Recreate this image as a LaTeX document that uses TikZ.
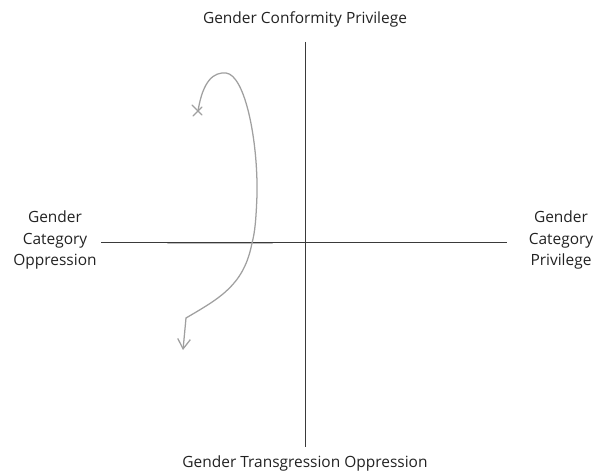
\documentclass[tikz,border=0pt]{standalone}
\usepackage{fontspec}
\setmainfont{Open Sans}
\usetikzlibrary{positioning,arrows.meta}
\definecolor{axisgray}{HTML}{3A3A3A}
\definecolor{pencil}{HTML}{A0A0A0}
\definecolor{ink}{HTML}{222222}
\tikzset{
  axisline/.style={draw=axisgray, line width=0.7pt},
  sketch/.style={draw=pencil, line width=0.9pt, line cap=round, line join=round},
  lab/.style={font=\fontsize{11pt}{15.6pt}\selectfont, text=ink, align=center, inner sep=0pt},
}
\begin{document}
\begin{tikzpicture}[x=0.025cm, y=-0.025cm]
    \useasboundingbox (0,0) rectangle (596,473);
    % quadrant axes
    \coordinate (top) at (305,42);
    \coordinate (bot) at (305,447);
    \coordinate (lft) at (101,242);
    \coordinate (rgt) at (507,242);
    \draw[axisline] (top) -- (bot);
    \draw[axisline] (lft) -- (rgt);
    \node[lab] (tlab) at (305,19) {Gender Conformity Privilege};
    \node[lab] (blab) at (305,463) {Gender Transgression Oppression};
    \node[lab] (llab) at (55,240) {Gender\\Category\\Oppression};
    \node[lab] (rlab) at (561,240) {Gender\\Category\\Privilege};
    % pencil trace
    \coordinate (seg1) at (168,243.5);
    \coordinate (seg2) at (272,243.5);
    \draw[sketch, line width=1.4pt, draw=pencil!70] (seg1) -- (seg2);
    \coordinate (start) at (198,111);
    \coordinate (peak) at (226,73);
    \coordinate (cross) at (252,243);
    \coordinate (knee) at (186,318);
    \coordinate (tip) at (183,350);
    \draw[sketch] (start) .. controls (203,80) and (214,72) .. (peak)
      .. controls (245,75) and (258,140) .. (257,195)
      .. controls (256,220) and (255,232) .. (cross)
      .. controls (244,285) and (220,298) .. (knee);
    \draw[sketch, -{Straight Barb[length=7pt, width=9pt]}] (knee) -- (tip);
    \draw[sketch] (start) ++(-6,-6) -- ++(10,10);
    \draw[sketch] (start) ++(-5,5) -- ++(9,-9);
\end{tikzpicture}
\end{document}
